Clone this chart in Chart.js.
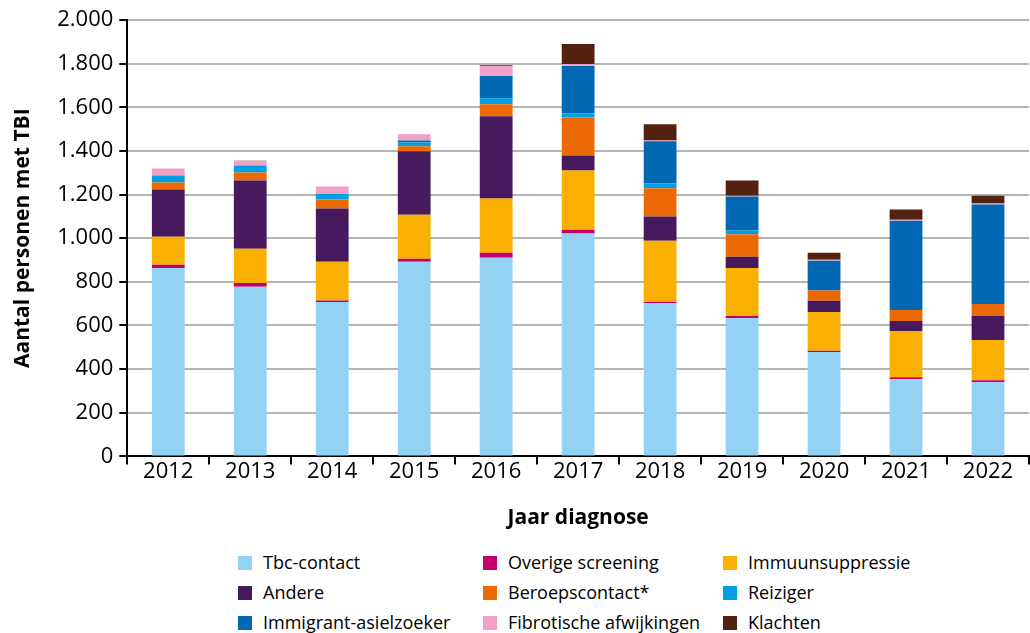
<!DOCTYPE html>
<html>
<head>
<meta charset="utf-8">
<script src="https://cdn.jsdelivr.net/npm/chart.js@4/dist/chart.umd.min.js"></script>
<style>
  body { margin: 0; background: #fff; font-family: "Open Sans", sans-serif; }
  #wrap { position: relative; width: 1030px; height: 633px; }
  #chartBox { position: absolute; left: 0; top: 0; width: 1030px; height: 540px; }
  .leg { position: absolute; font-size: 18px; color: #000; white-space: nowrap; line-height: 20px; }
  .leg span { display: inline-block; width: 14px; height: 14px; margin-right: 11px; vertical-align: -1px; }
</style>
</head>
<body>
<div id="wrap">
  <div id="chartBox"><canvas id="chart"></canvas></div>
  <div id="legend"></div>
</div>
<script>
// years on the x axis
const years = ['2012', '2013', '2014', '2015', '2016', '2017', '2018', '2019', '2020', '2021', '2022'];

// values per indication
const tbcContact = [864, 777, 708, 892, 910, 1021, 703, 634, 478, 354, 340];
const overigeScreening = [14, 18, 6, 14, 23, 18, 5, 10, 6, 9, 9];
const immuunsuppressie = [129, 157, 178, 202, 249, 271, 280, 220, 178, 212, 184];
const andere = [216, 312, 244, 290, 377, 69, 111, 51, 51, 46, 111];
const beroepscontact = [32, 37, 41, 23, 55, 175, 130, 103, 47, 50, 55];
const reiziger = [32, 32, 25, 18, 27, 18, 23, 17, 0, 0, 0];
const immigrant = [0, 0, 0, 9, 102, 217, 192, 156, 137, 409, 455];
const fibrotisch = [33, 20, 35, 28, 46, 9, 4, 4, 4, 5, 5];
const klachten = [0, 2, 0, 0, 4, 92, 74, 69, 32, 46, 36];

const seriesNames = ['Tbc-contact', 'Overige screening', 'Immuunsuppressie', 'Andere', 'Beroepscontact*',
  'Reiziger', 'Immigrant-asielzoeker', 'Fibrotische afwijkingen', 'Klachten'];
const seriesData = [tbcContact, overigeScreening, immuunsuppressie, andere, beroepscontact,
  reiziger, immigrant, fibrotisch, klachten];
const seriesColors = ['#94d2f3', '#c3006b', '#f9b000', '#461a5c', '#ec6a06',
  '#009fe3', '#0169b3', '#f1a0c6', '#532110'];

const yTicks = [0, 200, 400, 600, 800, 1000, 1200, 1400, 1600, 1800, 2000];

const datasets = seriesNames.map((name, i) => ({
  label: name,
  data: seriesData[i],
  backgroundColor: seriesColors[i],
  borderWidth: 0,
  barPercentage: 0.4,
  categoryPercentage: 1
}));

const ctx = document.getElementById('chart').getContext('2d');
new Chart(ctx, {
  type: 'bar',
  data: { labels: years, datasets: datasets },
  options: {
    responsive: true,
    maintainAspectRatio: false,
    animation: false,
    layout: { padding: { top: 20, right: 1, left: 6, bottom: 5 } },
    plugins: { legend: { display: false }, tooltip: { enabled: false } },
    scales: {
      x: {
        stacked: true,
        border: { color: '#000', width: 2 },
        grid: { drawOnChartArea: false, drawTicks: true, tickLength: 8, tickColor: '#000', lineWidth: 2 },
        ticks: { color: '#000', font: { family: 'Open Sans', size: 22 }, padding: -6 },
        title: { display: true, text: 'Jaar diagnose', color: '#000',
                 font: { family: 'Open Sans', size: 21, weight: 'bold' }, padding: { top: 27 } }
      },
      y: {
        stacked: true,
        min: 0,
        max: 2000,
        afterBuildTicks: axis => { axis.ticks = yTicks.map(v => ({ value: v })); },
        border: { color: '#000', width: 2 },
        grid: { color: '#b5b5b5', lineWidth: 2, tickColor: '#000', tickLength: 8 },
        ticks: {
          color: '#000',
          font: { family: 'Open Sans', size: 22 },
          padding: 6,
          callback: v => String(v).replace(/\B(?=(\d{3})+(?!\d))/g, '.')
        },
        title: { display: true, text: 'Aantal personen met TBI', color: '#000',
                 font: { family: 'Open Sans', size: 21, weight: 'bold' }, padding: { bottom: 16 } }
      }
    }
  }
});

// legend in three columns below the chart
const legendCols = [238, 483, 723];
const legendRows = [552, 582, 612];
const legend = document.getElementById('legend');
seriesNames.forEach((name, i) => {
  const div = document.createElement('div');
  div.className = 'leg';
  div.style.left = legendCols[i % 3] + 'px';
  div.style.top = legendRows[Math.floor(i / 3)] + 'px';
  div.innerHTML = '<span style="background:' + seriesColors[i] + '"></span>' + name;
  legend.appendChild(div);
});
</script>
</body>
</html>
